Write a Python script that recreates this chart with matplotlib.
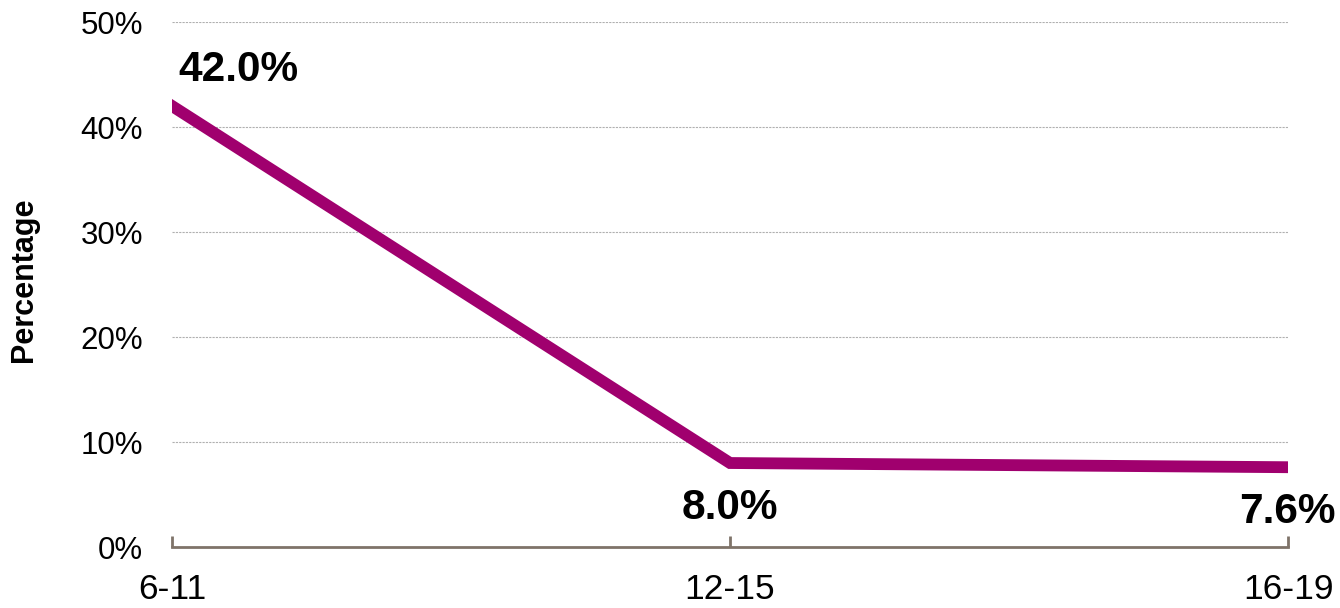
import matplotlib.pyplot as plt

# age groups and share (%)
categories = ["6-11", "12-15", "16-19"]
values = [42.0, 8.0, 7.6]
yticks = [0, 10, 20, 30, 40, 50]

plt.rcParams['font.family'] = ['Liberation Sans', 'DejaVu Sans']

fig = plt.figure(figsize=(13.4, 6.08), dpi=100)
ax = fig.add_axes([0.1284, 0.1003, 0.8328, 0.8635])

x = list(range(len(categories)))
ax.plot(x, values, color="#A0006E", linewidth=8.5, solid_joinstyle="miter", zorder=3)

ax.set_xlim(0, len(categories) - 1)
ax.set_ylim(0, 50)
ax.set_yticks(yticks)
ax.set_yticklabels([f"{t}%" for t in yticks], fontsize=22.5)
ax.set_xticks(x)
ax.set_xticklabels(categories, fontsize=25.5)
fig.text(24 / 1340, 1 - 280 / 608, "Percentage", rotation=90, ha="center", va="center",
         fontsize=22, fontweight="bold")

# grid lines
for t in yticks[1:]:
    ax.axhline(t, color="#B0B0B0", linewidth=0.8, linestyle=(0, (2, 1)), zorder=1)

for s in ["left", "right", "top"]:
    ax.spines[s].set_visible(False)
ax.spines["bottom"].set_color("#7F7369")
ax.spines["bottom"].set_linewidth(2)
ax.tick_params(axis="x", direction="in", length=8, width=2, color="#7F7369", pad=18.5)
ax.tick_params(axis="y", length=0, pad=21)

# data labels (offsets in pixels)
offsets = [(6, 36, "left"), (0, -45, "center"), (48, -45, "right")]
for xi, v, (dx, dy, ha) in zip(x, values, offsets):
    ax.annotate(f"{v:.1f}%", (xi, v), xytext=(dx * 0.72, dy * 0.72), textcoords="offset points",
                ha=ha, va="center", fontsize=30.5, fontweight="bold", annotation_clip=False)

fig.savefig("out.png", dpi=100)
